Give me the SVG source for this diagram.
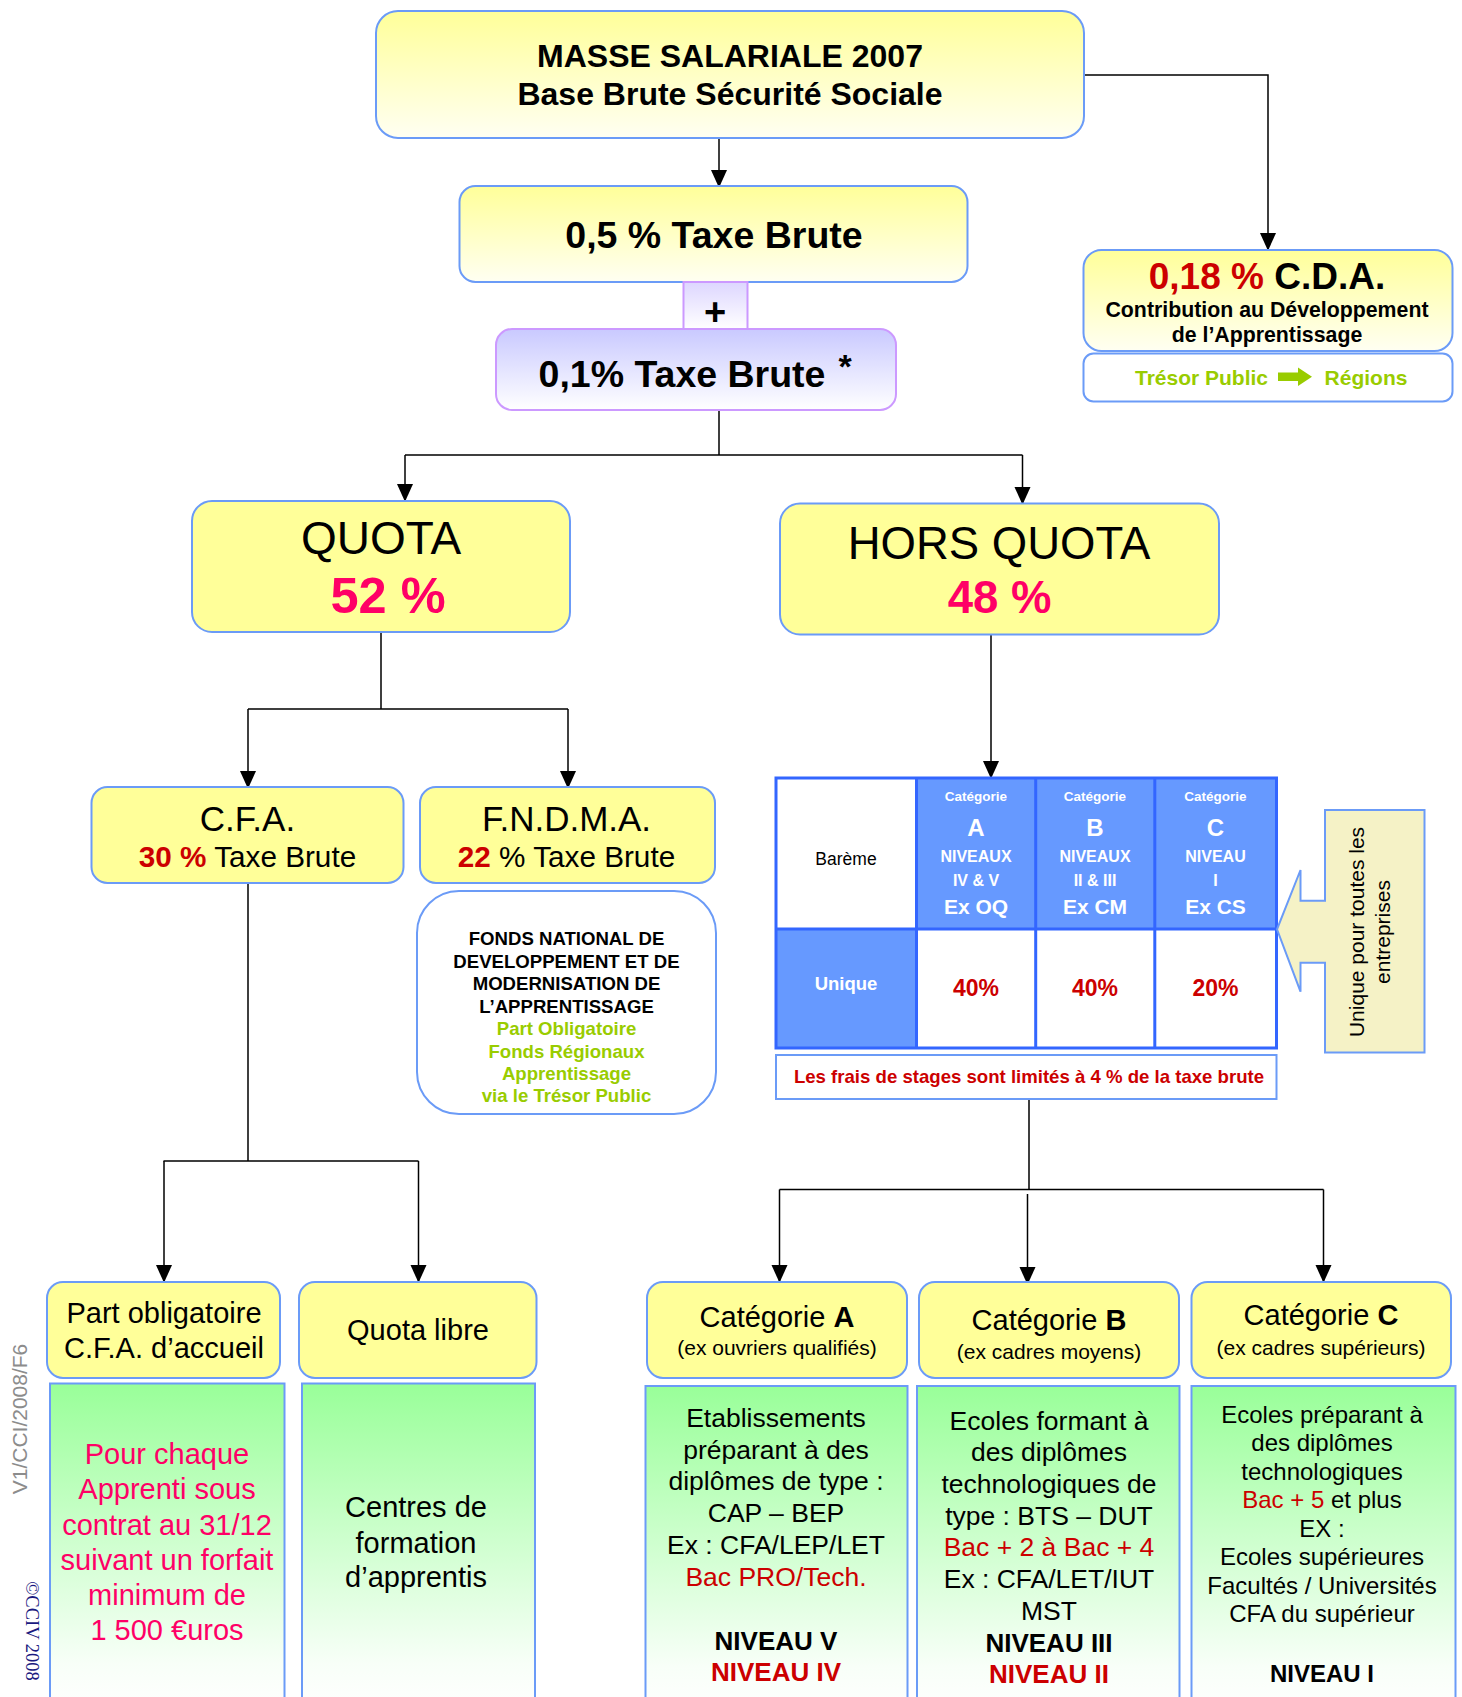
<svg xmlns="http://www.w3.org/2000/svg" width="1462" height="1697" viewBox="0 0 1462 1697">
<defs>
<linearGradient id="gY" x1="0" y1="0" x2="0" y2="1"><stop offset="0" stop-color="#FFFF99"/><stop offset="1" stop-color="#FFFFF2"/></linearGradient>
<linearGradient id="gV" x1="0" y1="0" x2="0" y2="1"><stop offset="0" stop-color="#C9C9FF"/><stop offset="1" stop-color="#FFFFFF"/></linearGradient>
<linearGradient id="gP" x1="0" y1="0" x2="0" y2="1"><stop offset="0" stop-color="#DDD6FF"/><stop offset="1" stop-color="#FFFFFF"/></linearGradient>
<linearGradient id="gG" x1="0" y1="0" x2="0" y2="1"><stop offset="0" stop-color="#99FF99"/><stop offset="0.85" stop-color="#F8FFF8"/><stop offset="1" stop-color="#FFFFFF"/></linearGradient>
<marker id="ah" markerUnits="userSpaceOnUse" markerWidth="18" markerHeight="20" refX="18" refY="9" orient="auto" viewBox="0 0 20 18">
<path d="M0,0 L20,9 L0,18 Z" fill="#000"/>
</marker>
<style>
text{font-family:"Liberation Sans",Arial,sans-serif;text-anchor:middle}
.b{font-weight:bold}
.yb{fill:url(#gY);stroke:#6B9BF7;stroke-width:2}
.ys{fill:#FFFF99;stroke:#6B9BF7;stroke-width:2}
.gb{fill:url(#gG);stroke:#6B9BF7;stroke-width:2}
.vb{fill:url(#gV);stroke:#CC99FF;stroke-width:2}
.c{fill:none;stroke:#000;stroke-width:1.5}
.red{fill:#CC0000}
.pink{fill:#FF0066}
.grn{fill:#99CC00}
.wh{fill:#FFFFFF}
.tcell{stroke:#3366FF;stroke-width:3}
</style>
</defs>

<g id="connectors">
<path class="c" d="M719,138 V186" marker-end="url(#ah)"/>
<path class="c" d="M1084,75 H1268 V249" marker-end="url(#ah)"/>
<path class="c" d="M719,410 V455 M405,455 H1022.5"/>
<path class="c" d="M405,455 V500" marker-end="url(#ah)"/>
<path class="c" d="M1022.5,455 V503" marker-end="url(#ah)"/>
<path class="c" d="M381,632 V709 M248,709 H568"/>
<path class="c" d="M248,709 V787" marker-end="url(#ah)"/>
<path class="c" d="M568,709 V787" marker-end="url(#ah)"/>
<path class="c" d="M991,634 V777" marker-end="url(#ah)"/>
<path class="c" d="M248,883 V1161 M163.5,1161 H418.5"/>
<path class="c" d="M164,1161 V1281" marker-end="url(#ah)"/>
<path class="c" d="M418.5,1161 V1281" marker-end="url(#ah)"/>
<path class="c" d="M1029,1099 V1189.5 M779.5,1189.5 H1323.5"/>
<path class="c" d="M779.5,1189.5 V1281" marker-end="url(#ah)"/>
<path class="c" d="M1027.5,1194 V1283" marker-end="url(#ah)"/>
<path class="c" d="M1323.5,1189.5 V1281" marker-end="url(#ah)"/>
</g>

<g id="masse">
<rect class="yb" x="376" y="11" width="708" height="127" rx="22"/>
<text class="b" x="730" y="67" font-size="32">MASSE SALARIALE 2007</text>
<text class="b" x="730" y="105" font-size="32">Base Brute Sécurité Sociale</text>
</g>

<g id="taxe05">
<rect class="yb" x="459.5" y="186" width="508" height="96" rx="16"/>
<text class="b" x="714" y="248" font-size="37.5">0,5 % Taxe Brute</text>
</g>

<g id="plus">
<rect x="683.5" y="282" width="64" height="47" fill="url(#gP)" stroke="#CC99FF" stroke-width="2"/>
<text class="b" x="715" y="325" font-size="38">+</text>
</g>

<g id="taxe01">
<rect class="vb" x="496" y="329" width="400" height="81" rx="16"/>
<text class="b" x="682" y="387" font-size="37.5">0,1% Taxe Brute</text>
<text class="b" x="845" y="378" font-size="34">*</text>
</g>

<g id="cda">
<rect class="yb" x="1083.5" y="250" width="369" height="101" rx="18"/>
<text class="b" x="1267" y="289" font-size="37"><tspan class="red">0,18 %</tspan> C.D.A.</text>
<text class="b" x="1267" y="317" font-size="21.3">Contribution au Développement</text>
<text class="b" x="1267" y="341.5" font-size="21.3">de l’Apprentissage</text>
</g>

<g id="tresor">
<rect x="1083.5" y="353.5" width="369" height="48" rx="10" fill="#FFFFFF" stroke="#6B9BF7" stroke-width="2"/>
<text class="b grn" x="1201.5" y="385" font-size="21">Trésor Public</text>
<path d="M1278,372.5 H1298 V367.5 L1312,376.8 L1298,386 V381 H1278 Z" fill="#99CC00"/>
<text class="b grn" x="1366" y="385" font-size="21">Régions</text>
</g>

<g id="quota">
<rect class="ys" x="192" y="501" width="378" height="131" rx="20"/>
<text x="381" y="554" font-size="46">QUOTA</text>
<text class="b pink" x="388" y="613" font-size="50.5">52 %</text>
</g>

<g id="horsquota">
<rect class="ys" x="780" y="503.5" width="439" height="131" rx="20"/>
<text x="999" y="559" font-size="45.5">HORS QUOTA</text>
<text class="b pink" x="999.5" y="613" font-size="45.5">48 %</text>
</g>

<g id="cfa">
<rect class="ys" x="91.5" y="787" width="312" height="96" rx="16"/>
<text x="247.5" y="831" font-size="35">C.F.A.</text>
<text x="247.5" y="867" font-size="29.7"><tspan class="b red">30 %</tspan> Taxe Brute</text>
</g>

<g id="fndma">
<rect class="ys" x="420" y="787" width="295" height="96" rx="16"/>
<text x="566.5" y="831" font-size="35">F.N.D.M.A.</text>
<text x="566.5" y="867" font-size="29.7"><tspan class="b red">22</tspan> % Taxe Brute</text>
</g>

<g id="fndma-desc">
<rect x="417" y="891" width="299" height="223" rx="42" fill="#FFFFFF" stroke="#6B9BF7" stroke-width="2"/>
<text class="b" x="566.5" y="945" font-size="18.6">FONDS NATIONAL DE</text>
<text class="b" x="566.5" y="967.5" font-size="18.6">DEVELOPPEMENT ET DE</text>
<text class="b" x="566.5" y="990" font-size="18.6">MODERNISATION DE</text>
<text class="b" x="566.5" y="1012.5" font-size="18.6">L’APPRENTISSAGE</text>
<text class="b grn" x="566.5" y="1035" font-size="18.6">Part Obligatoire</text>
<text class="b grn" x="566.5" y="1057.5" font-size="18.6">Fonds Régionaux</text>
<text class="b grn" x="566.5" y="1080" font-size="18.6">Apprentissage</text>
<text class="b grn" x="566.5" y="1102" font-size="18.6">via le Trésor Public</text>
</g>

<g id="bareme">
<rect x="776" y="778" width="140.5" height="151" fill="#FFFFFF"/>
<rect x="916.5" y="778" width="360" height="151" fill="#6699FF"/>
<rect x="776" y="929" width="140.5" height="119" fill="#6699FF"/>
<rect x="916.5" y="929" width="360" height="119" fill="#FFFFFF"/>
<path class="tcell" fill="none" d="M776,778 H1276.5 V1048 H776 Z M916.5,778 V1048 M1035.7,778 V1048 M1154.8,778 V1048 M776,929 H1276.5"/>
<text x="846" y="865" font-size="17.5">Barème</text>
<text class="b wh" x="846" y="990" font-size="18.5">Unique</text>
<text class="b wh" x="976" y="801" font-size="13.5">Catégorie</text>
<text class="b wh" x="976" y="836" font-size="24">A</text>
<text class="b wh" x="976" y="862" font-size="16">NIVEAUX</text>
<text class="b wh" x="976" y="886" font-size="16">IV &amp; V</text>
<text class="b wh" x="976" y="914" font-size="21">Ex OQ</text>
<text class="b wh" x="1095" y="801" font-size="13.5">Catégorie</text>
<text class="b wh" x="1095" y="836" font-size="24">B</text>
<text class="b wh" x="1095" y="862" font-size="16">NIVEAUX</text>
<text class="b wh" x="1095" y="886" font-size="16">II &amp; III</text>
<text class="b wh" x="1095" y="914" font-size="21">Ex CM</text>
<text class="b wh" x="1215.5" y="801" font-size="13.5">Catégorie</text>
<text class="b wh" x="1215.5" y="836" font-size="24">C</text>
<text class="b wh" x="1215.5" y="862" font-size="16">NIVEAU</text>
<text class="b wh" x="1215.5" y="886" font-size="16">I</text>
<text class="b wh" x="1215.5" y="914" font-size="21">Ex CS</text>
<text class="b red" x="976" y="996" font-size="23">40%</text>
<text class="b red" x="1095" y="996" font-size="23">40%</text>
<text class="b red" x="1215.5" y="996" font-size="23">20%</text>
</g>

<g id="stages">
<rect x="776" y="1055" width="500.5" height="44" fill="#FFFFFF" stroke="#6B9BF7" stroke-width="2"/>
<text class="b red" x="1029" y="1083" font-size="18.6">Les frais de stages sont limités à 4 % de la taxe brute</text>
</g>

<g id="unique-callout">
<path d="M1325,810 H1424.5 V1052.5 H1325 V962.7 H1300.5 V991.7 L1277,929.3 L1300.5,870 V900.7 H1325 Z" fill="#F5F2C6" stroke="#6B9BF7" stroke-width="2"/>
<text transform="translate(1364,932) rotate(-90)" font-size="21">Unique pour toutes les</text>
<text transform="translate(1390,932) rotate(-90)" font-size="21">entreprises</text>
</g>

<g id="part-oblig">
<rect class="ys" x="47" y="1282" width="233" height="96" rx="16"/>
<text x="164" y="1323" font-size="29">Part obligatoire</text>
<text x="164" y="1357.5" font-size="29">C.F.A. d’accueil</text>
</g>

<g id="quota-libre">
<rect class="ys" x="299" y="1282" width="237.5" height="96" rx="16"/>
<text x="418" y="1339.5" font-size="29">Quota libre</text>
</g>

<g id="part-oblig-desc">
<rect class="gb" x="50" y="1383.5" width="234.5" height="330"/>
<text class="pink" x="167" y="1463.5" font-size="29">Pour chaque</text>
<text class="pink" x="167" y="1499" font-size="29">Apprenti sous</text>
<text class="pink" x="167" y="1534.5" font-size="29">contrat au 31/12</text>
<text class="pink" x="167" y="1569.5" font-size="29">suivant un forfait</text>
<text class="pink" x="167" y="1604.5" font-size="29">minimum de</text>
<text class="pink" x="167" y="1640" font-size="29">1 500 €uros</text>
</g>

<g id="quota-libre-desc">
<rect class="gb" x="302" y="1383.5" width="233" height="330"/>
<text x="416" y="1517" font-size="29">Centres de</text>
<text x="416" y="1552.5" font-size="29">formation</text>
<text x="416" y="1587" font-size="29">d’apprentis</text>
</g>

<g id="catA">
<rect class="ys" x="647" y="1282" width="260" height="96" rx="16"/>
<text x="777" y="1327" font-size="29">Catégorie <tspan class="b">A</tspan></text>
<text x="777" y="1355" font-size="21">(ex ouvriers qualifiés)</text>
</g>

<g id="catB">
<rect class="ys" x="919" y="1282" width="260" height="96" rx="16"/>
<text x="1049" y="1330" font-size="29">Catégorie <tspan class="b">B</tspan></text>
<text x="1049" y="1358.5" font-size="21">(ex cadres moyens)</text>
</g>

<g id="catC">
<rect class="ys" x="1191.5" y="1282" width="259.5" height="96" rx="16"/>
<text x="1321" y="1325" font-size="29">Catégorie <tspan class="b">C</tspan></text>
<text x="1321" y="1355" font-size="21">(ex cadres supérieurs)</text>
</g>

<g id="catA-desc">
<rect class="gb" x="645.5" y="1386" width="262" height="330"/>
<text x="776" y="1427" font-size="26.5">Etablissements</text>
<text x="776" y="1458.5" font-size="26.5">préparant à des</text>
<text x="776" y="1490" font-size="26.5">diplômes de type :</text>
<text x="776" y="1521.5" font-size="26.5">CAP – BEP</text>
<text x="776" y="1553.5" font-size="26.5">Ex : CFA/LEP/LET</text>
<text class="red" x="776" y="1586" font-size="26.5">Bac PRO/Tech.</text>
<text class="b" x="776" y="1649.5" font-size="26">NIVEAU V</text>
<text class="b red" x="776" y="1681" font-size="26">NIVEAU IV</text>
</g>

<g id="catB-desc">
<rect class="gb" x="917" y="1386" width="262.5" height="330"/>
<text x="1049" y="1429.5" font-size="26.5">Ecoles formant à</text>
<text x="1049" y="1461" font-size="26.5">des diplômes</text>
<text x="1049" y="1492.5" font-size="26.5">technologiques de</text>
<text x="1049" y="1524.5" font-size="26.5">type : BTS – DUT</text>
<text class="red" x="1049" y="1556" font-size="26.5">Bac + 2 à Bac + 4</text>
<text x="1049" y="1587.5" font-size="26.5">Ex : CFA/LET/IUT</text>
<text x="1049" y="1620" font-size="26.5">MST</text>
<text class="b" x="1049" y="1651.5" font-size="26">NIVEAU III</text>
<text class="b red" x="1049" y="1683" font-size="26">NIVEAU II</text>
</g>

<g id="catC-desc">
<rect class="gb" x="1191.5" y="1386" width="264" height="330"/>
<text x="1322" y="1422.5" font-size="24">Ecoles préparant à</text>
<text x="1322" y="1451" font-size="24">des diplômes</text>
<text x="1322" y="1479.5" font-size="24">technologiques</text>
<text x="1322" y="1508" font-size="24"><tspan class="red">Bac + 5</tspan> et plus</text>
<text x="1322" y="1536.5" font-size="24">EX :</text>
<text x="1322" y="1565" font-size="24">Ecoles supérieures</text>
<text x="1322" y="1593.5" font-size="24">Facultés / Universités</text>
<text x="1322" y="1622" font-size="24">CFA du supérieur</text>
<text class="b" x="1322" y="1682" font-size="24">NIVEAU I</text>
</g>

<text transform="translate(27,1419) rotate(-90)" font-size="21" fill="#8C8C8C">V1/CCI/2008/F6</text>
<text transform="translate(26,1631) rotate(90)" font-size="18.5" fill="#1A1A80" style="font-family:'Liberation Serif','Times New Roman',serif">©CCIV 2008</text>
</svg>
